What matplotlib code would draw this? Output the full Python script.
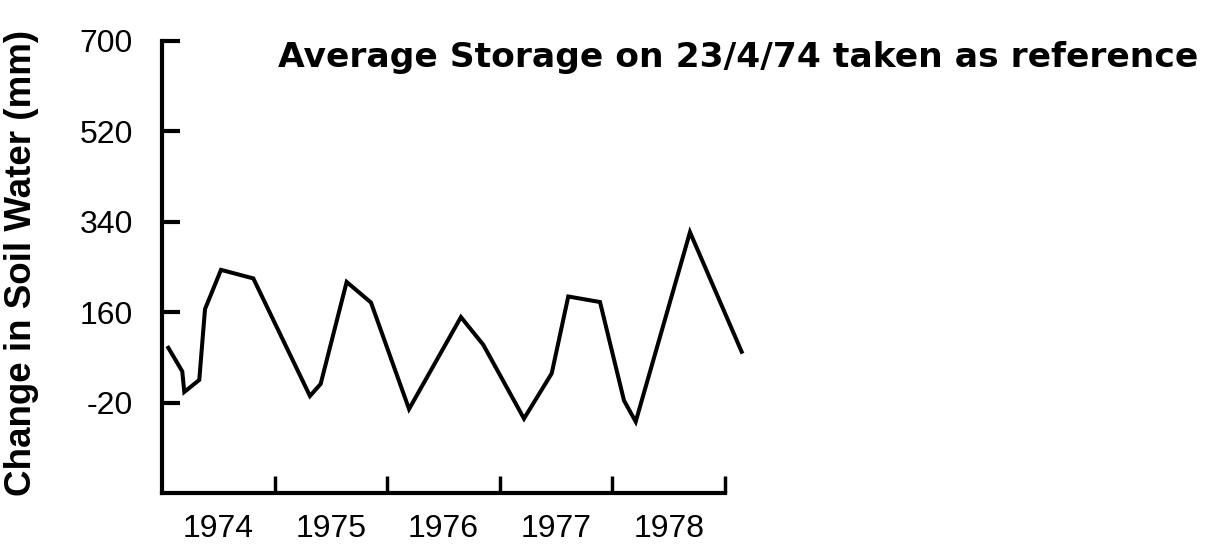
import matplotlib.pyplot as plt
from matplotlib.ticker import FixedLocator, NullFormatter

# change in soil water storage relative to 23/4/74 (mm)
time = [1974.056, 1974.180, 1974.198, 1974.331, 1974.382, 1974.524, 1974.811,
        1975.314, 1975.409, 1975.640, 1975.856, 1976.194, 1976.655, 1976.853,
        1977.215, 1977.461, 1977.608, 1977.890, 1978.103, 1978.207, 1978.689,
        1979.148]
storage = [89, 42, 1, 25, 166, 244, 227, -7, 17, 220, 179, -33, 150, 95,
           -52, 38, 191, 180, -16, -58, 319, 81]

years = [1974, 1975, 1976, 1977, 1978]
yticks = [-20, 160, 340, 520, 700]

fig = plt.figure(figsize=(12.15, 5.46), dpi=100)
ax = fig.add_axes([162 / 1215, 1 - 493 / 546, (725 - 162) / 1215, (493 - 40.7) / 546])

ax.plot(time, storage, color='black', lw=2.9, solid_joinstyle='miter', clip_on=False)

ax.set_xlim(1974, 1979)
ax.set_ylim(-200, 700)

for side in ['top', 'right']:
    ax.spines[side].set_visible(False)
for side in ['left', 'bottom']:
    ax.spines[side].set_linewidth(3)
    ax.spines[side].set_capstyle('projecting')

# year boundaries as ticks, year names centred between them
ax.xaxis.set_major_locator(FixedLocator([y + 1 for y in years]))
ax.xaxis.set_major_formatter(NullFormatter())
ax.xaxis.set_minor_locator(FixedLocator([y + 0.5 for y in years]))
ax.set_xticklabels([str(y) for y in years], minor=True)
ax.tick_params(axis='x', which='major', direction='in', length=12, width=2.5)
ax.tick_params(axis='x', which='minor', length=0, pad=15, labelsize=23)

ax.set_yticks(yticks)
ax.set_yticklabels([str(v) for v in yticks])
ax.tick_params(axis='y', direction='in', length=13, width=3, pad=21, labelsize=23)

for lab in ax.get_xticklabels(minor=True) + ax.get_yticklabels():
    lab.set_family('Liberation Sans')

fig.text(22 / 1215, 1 - 263 / 546, 'Change in Soil Water (mm)', rotation=90,
         fontsize=26.5, fontweight='bold', family='Liberation Sans',
         ha='center', va='center')

fig.text(278 / 1215, 1 - 57 / 546, 'Average Storage on 23/4/74 taken as reference',
         fontsize=24.8, fontweight='bold', family='DejaVu Sans', va='center', ha='left')

fig.savefig('out.png', dpi=100)
